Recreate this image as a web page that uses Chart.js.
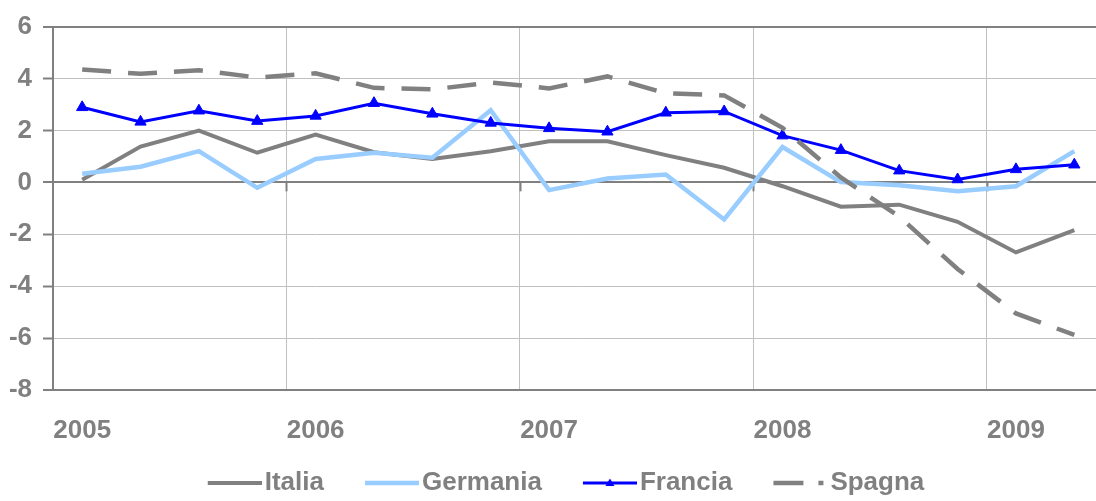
<!DOCTYPE html>
<html lang="it">
<head>
  <meta charset="UTF-8" />
  <title>Italia, Germania, Francia, Spagna</title>
  <script src="https://cdn.jsdelivr.net/npm/chart.js"></script>
  <style>
    body {
      margin: 0;
      padding: 0;
      background: #ffffff;
      overflow: hidden;
    }
    .chart-box {
      position: relative;
      width: 1111px;
      height: 506px;
    }
  </style>
</head>
<body>
  <div class="chart-box">
    <canvas id="chart"></canvas>
  </div>

  <script>
    // quarterly data, 2005 Q1 - 2009 Q2
    const periods = [
      '2005 T1', '2005 T2', '2005 T3', '2005 T4',
      '2006 T1', '2006 T2', '2006 T3', '2006 T4',
      '2007 T1', '2007 T2', '2007 T3', '2007 T4',
      '2008 T1', '2008 T2', '2008 T3', '2008 T4',
      '2009 T1', '2009 T2'
    ];
    const italia   = [0.1, 1.38, 1.99, 1.14, 1.84, 1.16, 0.9, 1.2, 1.58, 1.58, 1.05, 0.56, -0.15, -0.94, -0.86, -1.52, -2.7, -1.84];
    const germania = [0.33, 0.6, 1.2, -0.21, 0.9, 1.14, 0.95, 2.78, -0.3, 0.15, 0.3, -1.43, 1.36, 0.01, -0.11, -0.34, -0.15, 1.2];
    const francia  = [2.89, 2.33, 2.76, 2.36, 2.56, 3.05, 2.64, 2.29, 2.08, 1.95, 2.68, 2.73, 1.8, 1.24, 0.45, 0.11, 0.5, 0.68];
    const spagna   = [4.35, 4.18, 4.32, 4.04, 4.2, 3.64, 3.58, 3.85, 3.62, 4.08, 3.43, 3.35, 2.1, 0.19, -1.32, -3.34, -5.05, -5.88];
    const yMin = -8, yMax = 6, yStep = 2;

    const GREY = '#808080';
    const LIGHT = '#c0c0c0';
    const FONT = { family: 'Arial, "Liberation Sans", sans-serif', size: 26, weight: 'bold' };
    const BOX_W = 61;

    // legend samples (line + marker) as little canvases, line sits at the right end
    function makeSample(color, width, dash, marker) {
      const c = document.createElement('canvas');
      c.width = BOX_W + 20; c.height = 16;
      const g = c.getContext('2d');
      const x0 = c.width - 54;
      g.strokeStyle = color;
      g.lineWidth = width;
      g.setLineDash(dash || []);
      g.beginPath();
      g.moveTo(x0, 8);
      g.lineTo(dash ? x0 + 50 : x0 + 54, 8);
      g.stroke();
      if (marker) {
        g.setLineDash([]);
        g.fillStyle = color;
        g.beginPath();
        g.moveTo(x0 + 27, 3.5);
        g.lineTo(x0 + 31.5, 11);
        g.lineTo(x0 + 22.5, 11);
        g.closePath();
        g.fill();
      }
      return c;
    }
    const samples = [
      makeSample(GREY, 4),
      makeSample('#99ccff', 4.5),
      makeSample('#0000ff', 3, null, true),
      makeSample(GREY, 4.5, [30, 15])
    ];

    // small tick marks on the zero line at each year boundary
    const zeroTicks = {
      id: 'zeroTicks',
      beforeDatasetsDraw(chart) {
        const x = chart.scales.x, y = chart.scales.y, ctx = chart.ctx;
        const y0 = y.getPixelForValue(0);
        ctx.save();
        ctx.strokeStyle = GREY;
        ctx.lineWidth = 2;
        for (let i = 4; i < periods.length; i += 4) {
          const px = Math.round((x.getPixelForValue(i - 1) + x.getPixelForValue(i)) / 2) + 0.5;
          ctx.beginPath();
          ctx.moveTo(px, y0);
          ctx.lineTo(px, y0 + 9);
          ctx.stroke();
        }
        ctx.restore();
      }
    };

    // nudge the legend a bit to the right, like the original
    const legendShift = {
      id: 'legendShift',
      afterLayout(chart) {
        chart.legend.left += 2;
        chart.legend.right += 2;
      }
    };

    new Chart(document.getElementById('chart'), {
      type: 'line',
      data: {
        labels: periods,
        datasets: [
          { label: 'Italia', data: italia, borderColor: GREY, borderWidth: 4, pointRadius: 0, order: 4 },
          { label: 'Germania', data: germania, borderColor: '#99ccff', borderWidth: 4.5, pointRadius: 0, order: 3 },
          { label: 'Francia', data: francia, borderColor: '#0000ff', backgroundColor: '#0000ff', borderWidth: 3,
            pointStyle: 'triangle', pointRadius: 6.5, pointBorderWidth: 1, order: 2 },
          { label: 'Spagna', data: spagna, borderColor: GREY, borderWidth: 4.5, borderDash: [29, 17], pointRadius: 0, order: 1 }
        ]
      },
      options: {
        responsive: true,
        maintainAspectRatio: false,
        animation: false,
        layout: { padding: { top: 17, left: 0, right: 0, bottom: 0 } },
        plugins: {
          tooltip: { enabled: false },
          legend: {
            position: 'bottom',
            labels: {
              usePointStyle: true,
              pointStyleWidth: BOX_W,
              padding: 24,
              color: GREY,
              font: FONT,
              sort: (a, b) => a.datasetIndex - b.datasetIndex,
              generateLabels(chart) {
                const items = Chart.defaults.plugins.legend.labels.generateLabels(chart);
                items.forEach(it => { it.pointStyle = samples[it.datasetIndex]; });
                return items;
              }
            }
          }
        },
        scales: {
          x: {
            offset: true,
            afterFit(scale) { scale.height = 56; },
            border: { display: false },
            grid: {
              offset: true,
              drawTicks: false,
              color: ctx => (ctx.index > 0 && ctx.index < periods.length && ctx.index % 4 === 0) ? LIGHT : 'rgba(0,0,0,0)',
              lineWidth: 1
            },
            ticks: {
              autoSkip: false,
              maxRotation: 0,
              padding: 25,
              color: GREY,
              font: FONT,
              callback(value) {
                const lab = this.getLabelForValue(value);
                return lab.endsWith('T1') ? lab.slice(0, 4) : '';
              }
            }
          },
          y: {
            min: yMin,
            max: yMax,
            afterFit(scale) { scale.width = 53; },
            border: { display: true, color: GREY, width: 2 },
            grid: {
              color: ctx => [yMin, 0, yMax].includes(ctx.tick.value) ? GREY : LIGHT,
              lineWidth: ctx => [yMin, 0, yMax].includes(ctx.tick.value) ? 2 : 1,
              tickLength: 10,
              tickColor: GREY,
              tickWidth: 2
            },
            ticks: {
              stepSize: yStep,
              padding: 11,
              color: GREY,
              font: FONT
            }
          }
        }
      },
      plugins: [zeroTicks, legendShift]
    });
  </script>
</body>
</html>
